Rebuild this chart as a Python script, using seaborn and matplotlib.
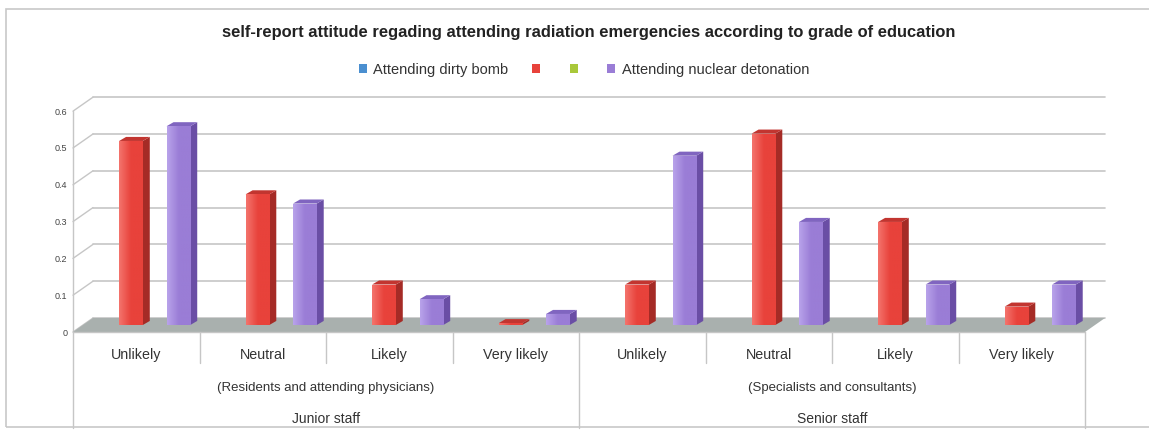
import numpy as np
import pandas as pd
import matplotlib
matplotlib.use("Agg")
import matplotlib.pyplot as plt
from matplotlib.patches import Patch, Polygon, Rectangle
from matplotlib.colors import LinearSegmentedColormap
import seaborn as sns

# data
categories = ["Unlikely", "Neutral", "Likely", "Very likely"] * 2
groups = ["(Residents and attending physicians)", "(Specialists and consultants)"]
staff = ["Junior staff", "Senior staff"]
series_names = ["Attending dirty bomb", "s2", "s3", "Attending nuclear detonation"]
legend_labels = ["Attending dirty bomb", "", "", "Attending nuclear detonation"]
dirty_bomb = [0, 0, 0, 0, 0, 0, 0, 0]
red_series = [0.50, 0.355, 0.11, 0.005, 0.11, 0.52, 0.28, 0.05]
green_series = [0, 0, 0, 0, 0, 0, 0, 0]
nuclear = [0.54, 0.33, 0.07, 0.03, 0.46, 0.28, 0.11, 0.11]
yticks = [0, 0.1, 0.2, 0.3, 0.4, 0.5, 0.6]

colors = ["#4a8fd0", "#e8423b", "#a9c83a", "#9a7dd6"]
light_colors = ["#7fb3e3", "#f4736c", "#c6de6a", "#b8a2ea"]
side_colors = ["#2f6aa0", "#a52b26", "#7d952a", "#6a4ea5"]
top_colors = ["#3c7cba", "#c23530", "#93ad30", "#8065c0"]

rows = []
for name, vals in zip(series_names, [dirty_bomb, red_series, green_series, nuclear]):
    for i, v in enumerate(vals):
        rows.append({"pos": i, "series": name, "value": v})
df = pd.DataFrame(rows)

sns.set_style("white")
plt.rcParams["font.family"] = ["Liberation Sans Narrow", "Liberation Sans", "DejaVu Sans"]

W, H = 1149, 430
fig = plt.figure(figsize=(W / 100, H / 100), dpi=100)
ax = fig.add_axes([73 / W, (H - 332) / H, 1012 / W, 235.2 / H])

ax = sns.barplot(data=df, x="pos", y="value", hue="series", hue_order=series_names,
                 palette=colors, width=0.75, saturation=1, legend=False, ax=ax,
                 linewidth=0, zorder=3)

s = 0.052          # perspective shift of the bars
dx = 20 / 126.5    # depth of the floor in x data units
dy = 0.019         # half depth of the floor in y data units
bdx, bdy = 0.055, 0.011   # bar depth

x0, x1 = -0.5 - s, 7.5 - s
ax.set_xlim(x0, x1)
ax.set_ylim(-dy, 0.62)
for sp in ax.spines.values():
    sp.set_visible(False)
ax.set_xlabel("")
ax.set_ylabel("")
ax.set_xticks([])
ax.set_yticks([t - dy for t in yticks])
ax.set_yticklabels([f"{t:g}" for t in yticks], fontsize=6.5, color="#444444")
ax.tick_params(axis="y", length=0, pad=4)

# back wall gridlines and left wall
for t in yticks:
    ax.plot([x0 + dx, x1 + dx], [t + dy, t + dy], color="#c6c6c6", lw=1.2, zorder=1, clip_on=False)
    ax.plot([x0, x0 + dx], [t - dy, t + dy], color="#c6c6c6", lw=1.0, zorder=1, clip_on=False)
ax.plot([x0, x0], [-dy, yticks[-1] - dy], color="#c6c6c6", lw=1.0, zorder=1, clip_on=False)

# floor
ax.add_patch(Polygon([[x0, -dy], [x1, -dy], [x1 + dx, dy], [x0 + dx, dy]],
                     closed=True, facecolor="#a9b0ae", edgecolor="none", zorder=2, clip_on=False))
ax.plot([x0, x1], [-dy, -dy], color="#c6c6c6", lw=1.0, zorder=2, clip_on=False)

# fake 3D faces and shading on the bars
grad = np.linspace(0, 1, 32).reshape(1, -1)
for k, cont in enumerate(ax.containers):
    cmap = LinearSegmentedColormap.from_list(f"g{k}", [light_colors[k], colors[k], colors[k]])
    for bar in cont:
        h = bar.get_height()
        if not h or np.isnan(h):
            continue
        bx, bw = bar.get_x(), bar.get_width()
        im = ax.imshow(grad, cmap=cmap, aspect="auto", extent=[bx, bx + bw, 0, h],
                       zorder=3.1, interpolation="bicubic")
        im.set_clip_path(bar)
        side = [[bx + bw, 0], [bx + bw + bdx, bdy], [bx + bw + bdx, h + bdy], [bx + bw, h]]
        top = [[bx, h], [bx + bw, h], [bx + bw + bdx, h + bdy], [bx + bdx, h + bdy]]
        ax.add_patch(Polygon(side, closed=True, facecolor=side_colors[k], edgecolor="none", zorder=3))
        ax.add_patch(Polygon(top, closed=True, facecolor=top_colors[k], edgecolor="none", zorder=3))
ax.set_xlim(x0, x1)
ax.set_ylim(-dy, 0.62)

# category axis boxes
xt = ax.get_xaxis_transform()
for i, lab in enumerate(categories):
    ax.text(i - s, -0.098, lab, transform=xt, ha="center", va="center", fontsize=10.3, color="#333333")
for i in range(1, 8):
    y_end = -0.407 if i == 4 else -0.133
    ax.plot([i - 0.5 - s, i - 0.5 - s], [0, y_end], transform=xt, color="#c6c6c6", lw=1.0, clip_on=False)
for xe in (x0, x1):
    ax.plot([xe, xe], [0, -0.407], transform=xt, color="#c6c6c6", lw=1.0, clip_on=False)
for g in range(2):
    ax.text(g * 4 + 1.5 - s, -0.236, groups[g], transform=xt, ha="center", va="center",
            fontsize=9.5, color="#333333")
    ax.text(g * 4 + 1.5 - s, -0.369, staff[g], transform=xt, ha="center", va="center",
            fontsize=10, color="#333333")

fig.text(589 / W, 1 - 33 / H, "self-report attitude regading attending radiation emergencies according to grade of education",
         ha="center", va="center", fontsize=11.9, fontweight="bold", color="#222222")

handles = [Patch(facecolor=c, edgecolor="none") for c in colors]
fig.legend(handles, legend_labels, loc="center", bbox_to_anchor=(584 / W, 1 - 70 / H), ncol=4,
           frameon=False, fontsize=10.5, handlelength=0.55, handleheight=0.55, handletextpad=0.45,
           columnspacing=1.6, labelcolor="#333333")

# chart area border
fig.patches.append(Rectangle((6 / W, 3 / H), 1.2, (427 - 9) / H, transform=fig.transFigure,
                             facecolor="none", edgecolor="#c8c8c8", lw=1.2))

fig.savefig("out.png", dpi=100)
